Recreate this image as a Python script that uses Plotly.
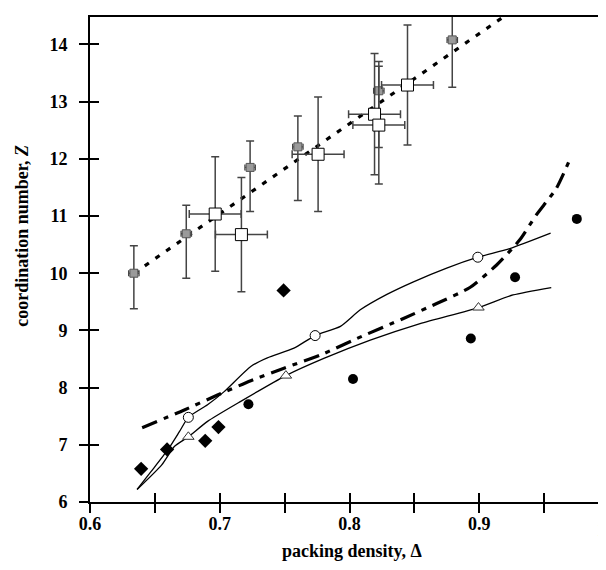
import plotly.graph_objects as go

FONT = "Liberation Serif"

# Upper cluster: gray squares (small horizontal error bars, asymmetric vertical)
gray_x = [0.6338, 0.6742, 0.7234, 0.7602, 0.8226, 0.8792]
gray_y = [10.00, 10.69, 11.85, 12.21, 13.19, 14.08]
gray_err_plus = [0.48, 0.50, 0.46, 0.54, 0.51, 0.44]
gray_err_minus = [0.62, 0.78, 0.77, 0.94, 0.99, 0.83]

# Upper cluster: open squares with x and y error bars
open_sq_x = [0.6965, 0.7167, 0.7758, 0.8193, 0.8226, 0.8447]
open_sq_y = [11.035, 10.675, 12.08, 12.78, 12.59, 13.29]
open_sq_xerr = [0.02, 0.02, 0.02, 0.02, 0.02, 0.02]
open_sq_yerr = [1.0, 1.0, 1.0, 1.06, 1.03, 1.05]

# Dotted linear fit
fit_x = [0.634, 0.921]
fit_y = [10.0, 14.52]

# Lower: solid curves
upper_curve_x = [0.6363, 0.647, 0.6599, 0.6689, 0.6758, 0.6906, 0.7034, 0.7239, 0.7367,
                 0.7572, 0.7735, 0.793, 0.8083, 0.8288, 0.8493, 0.8749, 0.899, 0.9235, 0.955]
upper_curve_y = [6.22, 6.53, 6.91, 7.23, 7.48, 7.70, 7.93, 8.37, 8.52,
                 8.69, 8.91, 9.07, 9.36, 9.63, 9.85, 10.09, 10.28, 10.43, 10.70]
lower_curve_x = [0.6363, 0.6553, 0.665, 0.6758, 0.6906, 0.7162, 0.751, 0.7802, 0.816,
                 0.8544, 0.8994, 0.926, 0.9555]
lower_curve_y = [6.22, 6.65, 6.97, 7.14, 7.41, 7.76, 8.21, 8.51, 8.83,
                 9.12, 9.40, 9.62, 9.75]

# Dash-dot curve
dashdot_x = [0.6402, 0.6727, 0.6983, 0.7239, 0.7495, 0.7776, 0.8058, 0.8416, 0.8672,
             0.8928, 0.9132, 0.9311, 0.944, 0.9593, 0.970]
dashdot_y = [7.30, 7.61, 7.87, 8.12, 8.34, 8.57, 8.86, 9.21, 9.47,
             9.75, 10.14, 10.58, 11.02, 11.48, 12.0]

# Markers on curves
open_circle_x = [0.6758, 0.7735, 0.8989]
open_circle_y = [7.48, 8.91, 10.28]
triangle_x = [0.6758, 0.751, 0.8994]
triangle_y = [7.14, 8.21, 9.40]

# Scatter markers
diamond_x = [0.6394, 0.6594, 0.6888, 0.699, 0.7492]
diamond_y = [6.58, 6.92, 7.07, 7.31, 9.70]
filled_circle_x = [0.7221, 0.8027, 0.8935, 0.9276, 0.9752]
filled_circle_y = [7.71, 8.15, 8.86, 9.93, 10.95]

# Ticks
x_tickvals = [0.6, 0.65, 0.7, 0.75, 0.8, 0.85, 0.9, 0.95, 1.0]
x_ticktext = ["0.6", "", "0.7", "", "0.8", "", "0.9", "", ""]
x_last_label = "1"   # label at x = 1.0, placed flush with the right edge
y_tickvals = [6, 7, 8, 9, 10, 11, 12, 13, 14]
y_ticktext = ["6", "7", "8", "9", "10", "11", "12", "13", "14"]

X_RANGE = [0.6, 1.0]
Y_RANGE = [6, 14.48]

fig = go.Figure()

ERR_COLOR = "#444444"

fig.add_trace(go.Scatter(
    x=fit_x, y=fit_y, mode="lines",
    line=dict(color="black", width=3.2, dash="5px,8px"),
    showlegend=False, hoverinfo="skip"))

fig.add_trace(go.Scatter(
    x=upper_curve_x, y=upper_curve_y, mode="lines",
    line=dict(color="black", width=1.3, shape="spline", smoothing=0.6),
    showlegend=False))
fig.add_trace(go.Scatter(
    x=lower_curve_x, y=lower_curve_y, mode="lines",
    line=dict(color="black", width=1.3, shape="spline", smoothing=0.6),
    showlegend=False))
fig.add_trace(go.Scatter(
    x=dashdot_x, y=dashdot_y, mode="lines",
    line=dict(color="black", width=3.2, shape="spline", smoothing=0.6,
              dash="16px,7px,5px,7px"),
    showlegend=False))

fig.add_trace(go.Scatter(
    x=gray_x, y=gray_y, mode="markers",
    marker=dict(symbol="square", size=8, color="#9a9a9a",
                line=dict(color="#555555", width=1)),
    error_y=dict(type="data", symmetric=False, array=gray_err_plus,
                 arrayminus=gray_err_minus, color=ERR_COLOR, thickness=1.5, width=4),
    error_x=dict(type="data", array=[0.004] * len(gray_x), color=ERR_COLOR,
                 thickness=1.3, width=3),
    showlegend=False))

fig.add_trace(go.Scatter(
    x=open_sq_x, y=open_sq_y, mode="markers",
    marker=dict(symbol="square", size=12, color="white",
                line=dict(color="black", width=1)),
    error_y=dict(type="data", array=open_sq_yerr, color=ERR_COLOR, thickness=1.5, width=4),
    error_x=dict(type="data", array=open_sq_xerr, color=ERR_COLOR, thickness=1.5, width=4),
    showlegend=False))

fig.add_trace(go.Scatter(
    x=diamond_x, y=diamond_y, mode="markers",
    marker=dict(symbol="diamond", size=11, color="black"),
    showlegend=False))
fig.add_trace(go.Scatter(
    x=filled_circle_x, y=filled_circle_y, mode="markers",
    marker=dict(symbol="circle", size=10, color="black"),
    showlegend=False))
fig.add_trace(go.Scatter(
    x=open_circle_x, y=open_circle_y, mode="markers",
    marker=dict(symbol="circle", size=10, color="white",
                line=dict(color="black", width=1)),
    showlegend=False))
fig.add_trace(go.Scatter(
    x=triangle_x, y=triangle_y, mode="markers",
    marker=dict(symbol="triangle-up", size=10, color="white",
                line=dict(color="#333333", width=1)),
    showlegend=False))

# empty trace on overlay axes so the inside ticks are drawn
fig.add_trace(go.Scatter(x=[None], y=[None], xaxis="x2", yaxis="y2",
                         mode="markers", showlegend=False, hoverinfo="skip"))

tickfont = dict(family=FONT, size=18, color="black", weight="bold")

fig.update_layout(
    width=606, height=570,
    margin=dict(l=82, r=3, t=9, b=76),
    paper_bgcolor="white", plot_bgcolor="white",
    xaxis=dict(range=X_RANGE, tickvals=x_tickvals, ticktext=x_ticktext,
               ticks="outside", ticklen=9, tickwidth=1.5, tickcolor="black",
               showline=True, linewidth=2, linecolor="black", mirror=True,
               showgrid=False, zeroline=False, tickfont=tickfont,
               ticklabelstandoff=-5),
    yaxis=dict(range=Y_RANGE, tickvals=y_tickvals, ticktext=y_ticktext,
               ticks="outside", ticklen=9, tickwidth=1.5, tickcolor="black",
               showline=True, linewidth=2, linecolor="black", mirror=True,
               showgrid=False, zeroline=False, tickfont=tickfont,
               ticklabelstandoff=8),
    xaxis2=dict(range=X_RANGE, overlaying="x", anchor="y2", side="bottom",
                tickvals=x_tickvals, ticks="inside", ticklen=9, tickwidth=1.5,
                tickcolor="black", showticklabels=False, showline=False,
                showgrid=False, zeroline=False),
    yaxis2=dict(range=Y_RANGE, overlaying="y", anchor="x2", side="left",
                tickvals=y_tickvals, ticks="inside", ticklen=9, tickwidth=1.5,
                tickcolor="black", showticklabels=False, showline=False,
                showgrid=False, zeroline=False),
    annotations=[
        dict(text="<b>packing density, Δ</b>", xref="paper", yref="paper",
             x=0.505, y=-0.1, xanchor="center", yanchor="middle", showarrow=False,
             font=dict(family=FONT, size=18, color="black")),
        dict(text="<b>coordination number, <i>Z</i></b>", xref="paper", yref="paper",
             x=-0.130, y=0.548, xanchor="center", yanchor="middle", showarrow=False,
             textangle=-90, font=dict(family=FONT, size=18, color="black")),
        dict(text="<b>" + x_last_label + "</b>", xref="paper", yref="paper",
             x=0.997, y=-0.058, xanchor="right", yanchor="middle",
             showarrow=False, borderpad=0,
             font=dict(family=FONT, size=18, color="black")),
    ],
)

fig.write_html("out.html")
